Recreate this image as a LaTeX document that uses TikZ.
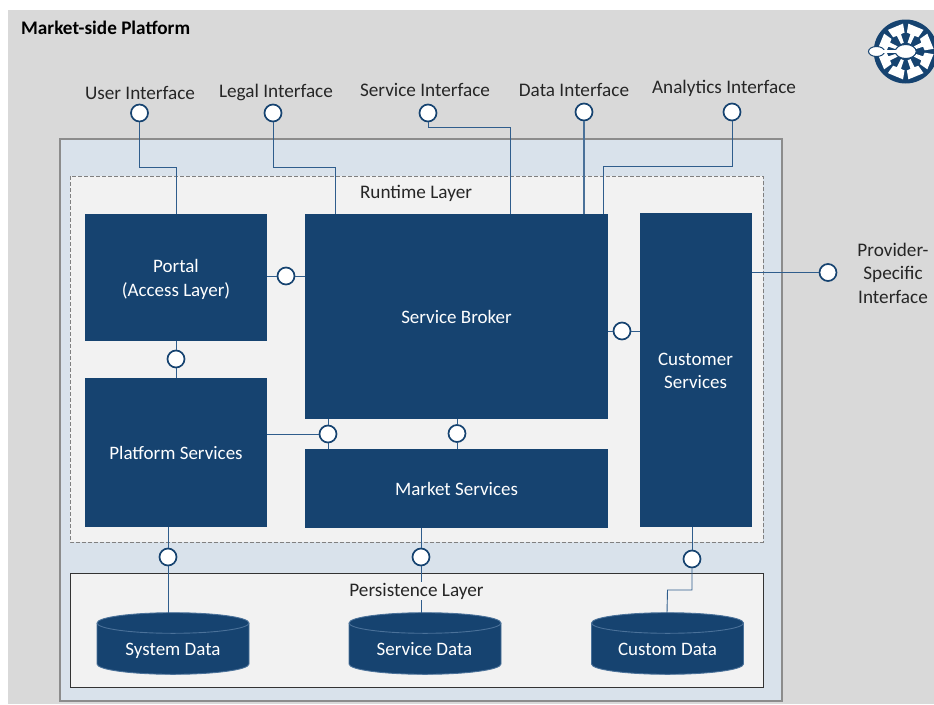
\documentclass[tikz,border=0pt]{standalone}
\usepackage{fontspec}
\setmainfont{Carlito}
\usetikzlibrary{calc}
\definecolor{bgray}{HTML}{D9D9D9}
\definecolor{navy}{HTML}{164370}
\definecolor{pale}{HTML}{D9E2EB}
\definecolor{lay}{HTML}{F2F2F2}
\definecolor{wire}{HTML}{2F5D8C}
\definecolor{rim}{HTML}{4A7199}
\newcommand{\drum}[1]{%
  \fill[navy,draw=rim,line width=0.9pt] (#1-76,623) arc[start angle=180,end angle=0,x radius=76pt,y radius=10.3pt] -- (#1+76,664) arc[start angle=0,end angle=-180,x radius=76pt,y radius=10.3pt] -- cycle;
  \draw[rim,line width=0.9pt] (#1-76,623) arc[start angle=180,end angle=360,x radius=76pt,y radius=10.3pt];
}
\tikzset{
  x=1pt,y=-1pt,
  block/.style={fill=navy,draw=none,text=white,font=\fontsize{19}{23.5}\selectfont,align=center,inner sep=0pt},
  lolli/.style={circle,draw=navy,line width=1.7pt,fill=white,minimum size=17pt,inner sep=0pt},
  wireline/.style={draw=wire,line width=0.9pt},
  lbl/.style={font=\fontsize{19.2}{23.5}\selectfont,text=black!85,align=center,inner sep=0pt},
  storetext/.style={text=white,font=\fontsize{19}{23}\selectfont,inner sep=0pt,anchor=base},
  blocktext/.style={text=white,font=\fontsize{19}{23.5}\selectfont,align=center,inner sep=0pt},
}
\begin{document}
\begin{tikzpicture}
\useasboundingbox (0,0) rectangle (934,704);
\fill[bgray] (8,10) rectangle (934,704);
\node[anchor=west,inner sep=0pt,font=\fontsize{19.2}{23}\selectfont\bfseries,text=black] (title) at (21,28) {Market-side Platform};
% containers
\draw[draw=black!45,line width=2pt,fill=pale] (59.5,138.5) rectangle (781.5,700.5);
\draw[draw=black!50,dash pattern=on 4pt off 2pt,line width=1pt,fill=lay] (70,176) rectangle (763,542);
\draw[draw=black!80,line width=1pt,fill=lay] (70,573) rectangle (763,687.5);
\node[lbl] (runtime) at (416,193.5) {Runtime Layer};
% blocks
\node[block,minimum width=182pt,minimum height=127pt] (portal) at (176,277.5) {};
\node[blocktext] (portaltext) at (176,279.5) {Portal\\(Access Layer)};
\node[block,minimum width=182pt,minimum height=149pt] (platform) at (176,452.5) {Platform Services};
\node[block,minimum width=303pt,minimum height=205pt] (broker) at (456.5,316.5) {Service Broker};
\node[block,minimum width=303pt,minimum height=79pt] (market) at (456.5,488.5) {Market Services};
\node[block,minimum width=112pt,minimum height=314pt] (customer) at (696,370) {};
\node[blocktext] (customertext) at (695.5,371) {Customer\\Services};
% stores
\drum{173}
\drum{425}
\drum{667.5}
\node[storetext] (syst) at (173,655.5) {System Data};
\node[storetext] (svct) at (424.5,655.5) {Service Data};
\node[storetext] (cust) at (667.5,655.5) {Custom Data};
% connector ends
\coordinate (pfoot) at (168,527);
\coordinate (mfoot) at (421,528);
\coordinate (cfoot) at (692,527);
\coordinate (stop1) at (168,613);
\coordinate (stop2) at (421,613);
\coordinate (stop3) at (667,613);
% lollipops
\node[lolli] (iuser) at (139.5,113) {};
\node[lolli] (ilegal) at (273,113) {};
\node[lolli] (iservice) at (428,113) {};
\node[lolli] (idata) at (584,112) {};
\node[lolli] (ianalytics) at (732,112) {};
\node[lolli] (iprovider) at (828,272.5) {};
\node[lolli] (pb) at (286,276) {};
\node[lolli] (bc) at (622,331) {};
\node[lolli] (pp) at (176,359) {};
\node[lolli] (pm) at (328,434) {};
\node[lolli] (bm) at (457,433.5) {};
\node[lolli] (ps) at (168,557) {};
\node[lolli] (ms) at (421,557) {};
\node[lolli] (cs) at (692,559) {};
% connectors
\draw[wireline] (iuser.south) -- (139.5,167) -- (176,167) -- (portal.north);
\draw[wireline] (ilegal.south) -- (273,167) -- (335,167) -- (335,214);
\draw[wireline] (iservice.south) -- (428,127) -- (510,127) -- (510,214);
\draw[wireline,line width=1.4pt,draw=rim] (idata.south) -- (584,214);
\draw[wireline] (ianalytics.south) -- (732,166) -- (603,166) -- (603,214);
\draw[wireline] (customer.east |- iprovider) -- (iprovider.west);
\draw[wireline] (portal.east |- pb) -- (pb.west);
\draw[wireline] (pb.east) -- (broker.west |- pb);
\draw[wireline] (broker.east |- bc) -- (bc.west);
\draw[wireline] (bc.east) -- (customer.west |- bc);
\draw[wireline] (portal.south) -- (pp.north);
\draw[wireline] (pp.south) -- (platform.north);
\draw[wireline] (platform.east |- pm) -- (pm.west);
\draw[wireline] (pm.north) -- (328,419);
\draw[wireline] (pm.south) -- (328,449);
\draw[wireline] (bm.north) -- (457,419);
\draw[wireline] (bm.south) -- (457,449);
\draw[wireline] (pfoot) -- (ps.north);
\draw[wireline] (ps.south) -- (stop1);
\draw[wireline] (mfoot) -- (ms.north);
\draw[wireline] (ms.south) -- (stop2);
\draw[wireline] (cfoot) -- (cs.north);
\draw[wireline] (cs.south) -- (692,590) -- (667.5,590) -- (stop3);
% labels
\node[lbl,fill=lay,inner ysep=1pt] (persist) at (416.5,591) {Persistence Layer};
\node[lbl] (luser) at (140,92.5) {User Interface};
\node[lbl] (llegal) at (276,92.5) {Legal Interface};
\node[lbl] (lservice) at (425,90) {Service Interface};
\node[lbl] (ldata) at (574,89.5) {Data Interface};
\node[lbl] (lanalytics) at (724,88.5) {Analytics Interface};
\node[lbl] (lprovider) at (893,273) {Provider-\\Specific\\Interface};
% emblem
\begin{scope}
\clip (8,10) rectangle (934,704);
\coordinate (hub) at (905.7,51.5);
\fill[navy] (hub) circle[radius=32pt];
\foreach \a in {22.5,67.5,...,337.5}{
  \fill[white] ($(hub)+(\a-17:28pt)$) -- ($(hub)+(\a+17:28pt)$) -- ($(hub)+(\a+19:19pt)$) -- ($(hub)+(\a+7:18pt)$) -- ($(hub)+(\a+10:9pt)$) -- ($(hub)+(\a-10:9pt)$) -- ($(hub)+(\a-7:18pt)$) -- ($(hub)+(\a-19:19pt)$) -- cycle;
}
\fill[white,draw=navy,line width=1pt] (hub) ellipse[x radius=10.5pt,y radius=7pt];
\fill[white] (880,49.8) rectangle (897,53.2);
\fill[white,draw=navy,line width=1pt] (876.5,51.5) ellipse[x radius=8pt,y radius=5pt];
\fill[white] (880,49.8) rectangle (897,53.2);
\end{scope}
\end{tikzpicture}
\end{document}
